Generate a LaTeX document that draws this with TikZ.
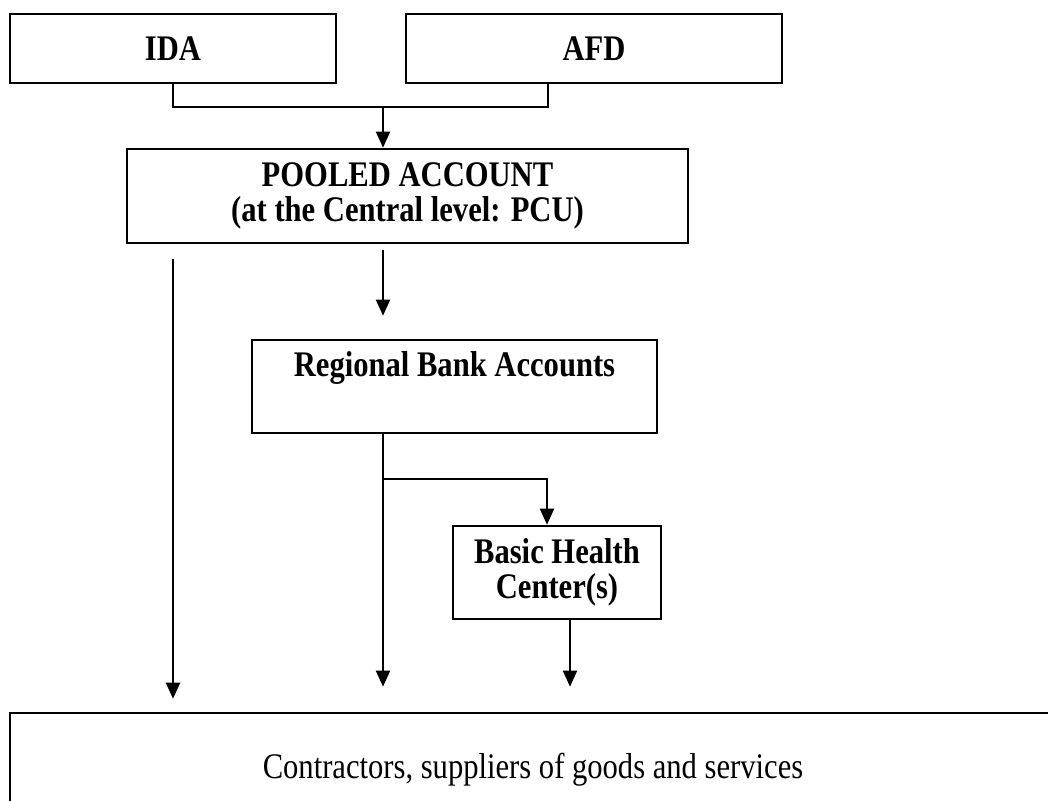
\documentclass[tikz,border=0pt]{standalone}
\usepackage{fontspec}
\setmainfont{Liberation Serif}[FakeStretch=0.85]
\usepackage{tikz}
\usetikzlibrary{arrows.meta,positioning}

\begin{document}
\begin{tikzpicture}[x=1pt, y=-1pt, >={Triangle[length=16pt,width=14pt]},
  box/.style={draw, line width=2.6pt, align=center, inner sep=0pt, font=\fontsize{36pt}{35pt}\selectfont\bfseries},
  flow/.style={line width=2pt}]
\clip (0,0) rectangle (1048,800);
\node (ida) at (173,48.5) [box, minimum width=326pt, minimum height=69pt] {IDA};
\node (afd) at (594,48.5) [box, minimum width=376pt, minimum height=69pt] {AFD};
\node (pool) at (407.5,196) [box, minimum width=561pt, minimum height=94pt] {POOLED ACCOUNT\\(at the Central level: PCU)};
\node (reg) at (454.5,386.5) [box, minimum width=405pt, minimum height=93pt] {Regional Bank Accounts\\\strut};
\node (bhc) at (557,572.5) [box, minimum width=208pt, minimum height=93pt] {Basic Health\\Center(s)};
\node (con) at (533,770) [box, minimum width=1046pt, minimum height=114pt, font=\fontsize{36pt}{35pt}\selectfont] {Contractors, suppliers of goods and services};

\coordinate (join) at (383,107);
\coordinate (split) at (383,479);

\draw [flow] (ida.south) |- (join) -| ([xshift=-46pt]afd.south);
\draw [flow, ->] (join) -- (join |- pool.north);
\draw [flow, ->] ([yshift=-6pt]pool.south -| join) -- ([yshift=23pt]reg.north -| join);
\draw [flow, ->] ([yshift=-15pt]pool.south -| ida.south) -- ([yshift=13pt]con.north -| ida.south);
\draw [flow, ->] (reg.south -| join) -- ([yshift=25pt]con.north -| join);
\draw [flow, ->] (split) -| ([xshift=-10pt]bhc.north);
\draw [flow, ->] ([xshift=13pt]bhc.south) -- ([xshift=13pt,yshift=25pt]con.north -| bhc.south);
\end{tikzpicture}
\end{document}
